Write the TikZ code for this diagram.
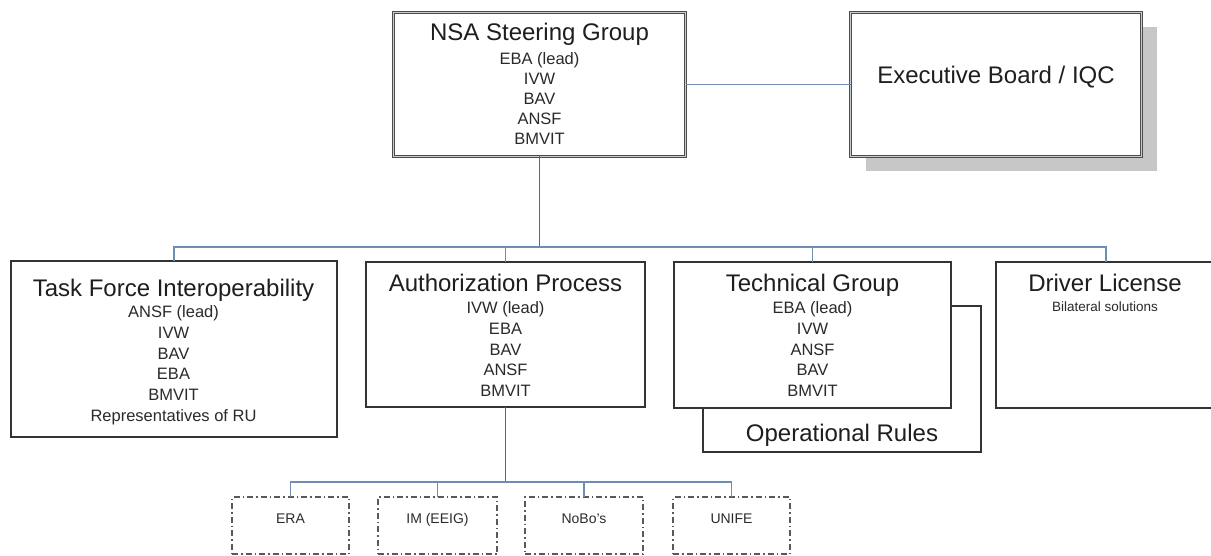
\documentclass[tikz,border=0pt]{standalone}
\usepackage{fontspec}
\setmainfont{Liberation Sans}
\usetikzlibrary{shadows}
\definecolor{linkc}{HTML}{6F8DB3}
\definecolor{trunkc}{HTML}{4A6A98}
\definecolor{boxc}{HTML}{333333}
\definecolor{txtc}{HTML}{1E1E1E}
\definecolor{subc}{HTML}{2A2A2A}
\newcommand\ttlfont{\fontsize{24}{28}\selectfont}
\newcommand\subfont{\fontsize{16.5}{20}\selectfont}
\newcommand\smallfont{\fontsize{13.5}{16}\selectfont}
\tikzset{
  box/.style={draw=boxc, line width=1.2pt, fill=white, rectangle, inner sep=0pt, outer sep=0pt},
  dbox/.style={draw=black!70, line width=0.9pt, double=black!20, double distance=1.3pt, fill=white, rectangle, inner sep=0pt, outer sep=0pt},
  dashbox/.style={draw=black!65, line width=1.1pt, dash pattern=on 6pt off 3pt on 1.5pt off 3pt, rectangle, inner sep=0pt, outer sep=0pt},
  ttl/.style={font=\ttlfont, text=txtc, anchor=base, inner sep=0pt},
  sub/.style={font=\subfont, text=subc, anchor=base, inner sep=0pt},
  small/.style={font=\smallfont, text=subc, anchor=base, inner sep=0pt},
  link/.style={draw=linkc, line width=1.1pt},
  trunk/.style={draw=trunkc, line width=1.3pt},
}
\begin{document}
\begin{tikzpicture}[x=1pt,y=-1pt]
\useasboundingbox (0,0) rectangle (1211,556);
% top level
\node[dbox, minimum width=292, minimum height=144] (nsa) at (539.5,84.5) {};
\node[dbox, minimum width=291, minimum height=144,
      drop shadow={shadow xshift=15pt, shadow yshift=-15pt, fill=black!22, opacity=1}] (exec) at (996,84.5) {};
\node[ttl] (nsa-t) at (539.5,40.6) {NSA Steering Group};
\foreach \t [count=\i] in {EBA (lead),IVW,BAV,ANSF,BMVIT}
  \node[sub] (nsa-\i) at (539.5,64.1+20.2*\i-20.2) {\t};
\node[ttl] (exec-t) at (996,83.6) {Executive Board / IQC};
% operational rules (behind technical group)
\node[box, minimum width=278, minimum height=146] (op) at (842,379) {};
\node[ttl] (op-t) at (842,441.6) {Operational Rules};
% second level
\node[box, minimum width=326, minimum height=176] (tf) at (174,349) {};
\node[box, minimum width=279, minimum height=145] (ap) at (505.5,334.5) {};
\node[box, minimum width=277, minimum height=146] (tg) at (812.5,335) {};
\node[box, minimum width=220, minimum height=146] (dl) at (1106,335) {};
\node[ttl] (tf-t) at (173.5,297) {Task Force Interoperability};
\foreach \t [count=\i] in {ANSF (lead),IVW,BAV,EBA,BMVIT,Representatives of RU}
  \node[sub] (tf-\i) at (173.5,317.8+20.7*\i-20.7) {\t};
\node[ttl] (ap-t) at (505.5,291.3) {Authorization Process};
\foreach \t [count=\i] in {IVW (lead),EBA,BAV,ANSF,BMVIT}
  \node[sub] (ap-\i) at (505.5,314+20.5*\i-20.5) {\t};
\node[ttl] (tg-t) at (812.5,291.3) {Technical Group};
\foreach \t [count=\i] in {EBA (lead),IVW,ANSF,BAV,BMVIT}
  \node[sub] (tg-\i) at (812.5,314+20.5*\i-20.5) {\t};
\node[ttl] (dl-t) at (1105,291.3) {Driver License};
\node[small] (dl-1) at (1105,312) {Bilateral solutions};
% third level
\node[dashbox, minimum width=117, minimum height=57] (era) at (290.5,525.5) {};
\node[dashbox, minimum width=119, minimum height=57] (im) at (437.5,525.5) {};
\node[dashbox, minimum width=118, minimum height=57] (nobo) at (584,525.5) {};
\node[dashbox, minimum width=117, minimum height=57] (unife) at (731.5,525.5) {};
\node[small, font=\fontsize{14}{16}\selectfont] (era-t) at (290.5,523) {ERA};
\node[small, font=\fontsize{14}{16}\selectfont] (im-t) at (437.5,523) {IM (EEIG)};
\node[small, font=\fontsize{14}{16}\selectfont] (nobo-t) at (584,523) {NoBo's};
\node[small, font=\fontsize{14}{16}\selectfont] (unife-t) at (731.5,523) {UNIFE};
% connectors
\coordinate (bus1) at (0,247);
\coordinate (bus2) at (0,482);
\draw[link] (nsa.east) -- (exec.west);
\draw[trunk] (nsa.south) -- (nsa.south |- bus1);
\draw[link] (tf.north) -- (tf.north |- bus1) -- (dl.north |- bus1) -- (dl.north);
\draw[link] (ap.north) -- (ap.north |- bus1);
\draw[link] (tg.north) -- (tg.north |- bus1);
\draw[trunk] (ap.south) -- (ap.south |- bus2);
\draw[link] (era.north) -- (era.north |- bus2) -- (unife.north |- bus2) -- (unife.north);
\draw[link] (im.north) -- (im.north |- bus2);
\draw[link] (nobo.north) -- (nobo.north |- bus2);
\end{tikzpicture}
\end{document}
